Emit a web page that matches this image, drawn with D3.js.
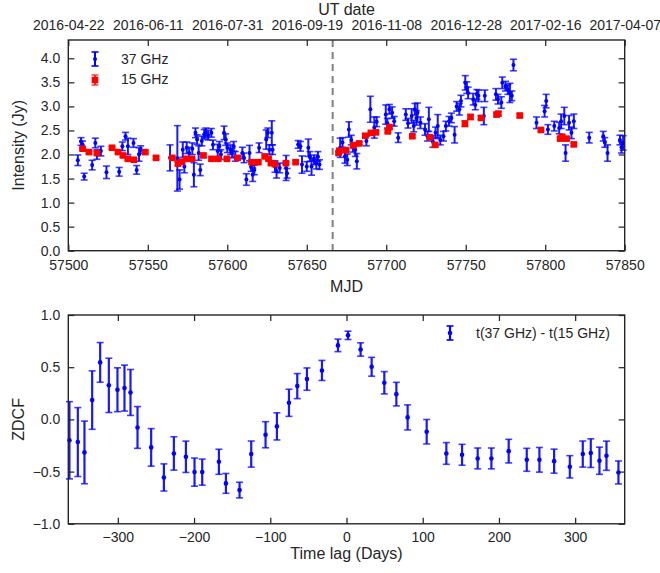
<!DOCTYPE html>
<html><head><meta charset="utf-8">
<script src="https://cdn.jsdelivr.net/npm/d3@7"></script>
<style>
html,body{margin:0;padding:0;background:#fff;}
text{font-family:"Liberation Sans",Arial,sans-serif;fill:#262626;}
</style></head>
<body>
<svg id="chart" width="660" height="573"></svg>
<script>
// ---------- data ----------
const mjd37 = [57506,57508,57509,57510,57515,57517,57518,57520.5,57524,57532,57534,57536,57537.5,57541,57543,57544.5,57545.5,
57564,57568.6,57570,57572,57573,57574.5,57576,57578,57579,57580,57581,57582,57583,57584,57585.5,57586.5,57588,57590,57591,
57594,57595,57596,57598,57599,57600,57602,57603,57604,57605,57609.5,57610.5,57612,57614,57615,57616,57617,57620,57624.5,
57625.5,57626.5,57628,57628.5,57630,57631,57633,57637,57637.6,57644.6,57646,57647,57650,57651,57652,57653,57654.5,57656,57657,57658,
57671,57672.5,57674,57675.5,57676.5,57678,57679,57680.5,57681.5,57687.5,57690,57692.5,57694,57699.7,57700.7,57702,57703.7,57705,
57707.5,57712.3,57713.7,57716,57717.3,57718,57719,57719.6,57721.5,57724.4,57726,57726.8,57729.3,57731,57732.4,57734,57736,57737.5,
57739.5,57741,57743,57744.3,57746,57747,57749.7,57750.7,57751.5,57754.7,57756,57757,57758,57761.4,57762,57769,57770.3,57772.4,
57773,57775,57776.5,57777.8,57779,57780,57794.5,57799.6,57800.6,57801.7,57805.7,57808.8,57810,57812,57812.8,57815,57816.5,57818,
57827.7,57836.5,57837.5,57839.2,57847,57848,57849];
const flux37 = [1.88,2.27,2.20,1.54,1.78,2.24,2.00,2.07,1.63,1.64,2.17,2.38,2.17,2.24,1.68,2.00,2.10,
1.93,1.92,1.48,2.10,1.75,2.14,2.03,2.12,1.58,2.45,2.31,2.03,1.68,2.28,2.42,2.45,2.40,2.45,2.20,
2.07,2.17,2.00,2.45,2.31,2.14,2.10,2.03,2.17,1.96,2.03,1.93,1.48,2.03,1.75,1.58,1.68,2.14,2.31,
2.45,2.10,2.45,2.10,1.75,1.65,1.72,1.72,1.61,2.21,2.17,1.79,1.75,2.14,1.96,1.75,1.89,1.82,1.96,1.79,
2.14,2.25,1.96,1.89,2.52,2.30,2.15,2.10,1.86,2.28,2.94,2.56,2.68,2.83,2.65,2.94,2.87,2.69,
2.35,2.83,2.65,2.80,2.59,2.94,2.76,2.87,2.66,2.52,2.38,2.73,2.27,2.45,2.59,2.30,2.38,2.59,
2.69,2.76,2.41,3.00,2.94,3.11,3.49,3.39,3.28,3.15,3.03,3.25,3.22,2.80,3.22,3.25,3.15,3.08,
3.49,3.42,3.35,3.28,3.22,3.86,2.66,2.90,3.11,2.52,2.59,2.55,2.69,2.80,2.03,2.66,2.45,2.69,
2.35,2.38,2.25,2.03,2.30,2.15,2.24];
const err37 = [0.11,0.08,0.08,0.07,0.10,0.10,0.10,0.10,0.13,0.09,0.09,0.08,0.17,0.09,0.09,0.14,0.08,
0.27,0.68,0.20,0.16,0.13,0.12,0.12,0.12,0.25,0.10,0.10,0.15,0.12,0.10,0.10,0.10,0.10,0.09,0.10,
0.14,0.10,0.10,0.14,0.12,0.10,0.10,0.10,0.10,0.10,0.12,0.10,0.12,0.16,0.10,0.14,0.10,0.10,0.20,
0.10,0.10,0.25,0.10,0.12,0.14,0.10,0.26,0.10,0.08,0.10,0.18,0.10,0.18,0.10,0.18,0.10,0.12,0.10,0.10,
0.20,0.10,0.14,0.12,0.16,0.10,0.10,0.14,0.16,0.10,0.27,0.22,0.10,0.20,0.10,0.10,0.12,0.10,
0.10,0.12,0.10,0.15,0.12,0.12,0.15,0.20,0.12,0.12,0.10,0.25,0.12,0.12,0.24,0.10,0.10,0.10,
0.10,0.10,0.17,0.10,0.12,0.12,0.15,0.12,0.12,0.12,0.10,0.10,0.12,0.18,0.12,0.12,0.10,0.12,
0.12,0.10,0.10,0.20,0.10,0.12,0.12,0.12,0.14,0.10,0.10,0.12,0.15,0.18,0.17,0.15,0.12,0.15,
0.11,0.10,0.10,0.17,0.10,0.12,0.15];

const mjd15 = [57509,57513,57518,57527.5,57531.3,57534.4,57537.5,57541.3,57548.4,57555.2,57565.4,57569,57571.3,57574.2,57577.8,
57585,57590.1,57594.3,57599.8,57606.5,57615.3,57619.5,57623.6,57626,57627.5,57630,57636.9,57643,
57670,57670.5,57674.7,57679.3,57683,57686.8,57690.4,57693.5,57701,57702,57716.4,57727.5,57730.8,57749.5,57753,57759.6,
57769.4,57770.5,57784,57797.3,57809.4,57810.6,57813.4,57818];
const flux15 = [2.12,2.05,2.03,2.14,2.05,1.98,1.91,1.89,2.05,1.93,1.93,1.81,1.85,1.91,1.91,
1.98,1.91,1.91,1.91,1.93,1.84,1.84,1.96,1.91,1.82,1.80,1.82,1.84,
2.03,2.08,2.09,2.19,2.23,2.39,2.45,2.46,2.48,2.57,2.38,2.36,2.20,2.64,2.78,2.76,
2.83,2.85,2.81,2.51,2.33,2.37,2.33,2.21];
const err15 = [0.03,0.03,0.03,0.03,0.03,0.03,0.03,0.03,0.03,0.03,0.03,0.03,0.03,0.03,0.03,
0.03,0.03,0.03,0.03,0.03,0.03,0.03,0.03,0.03,0.03,0.03,0.03,0.03,
0.03,0.03,0.03,0.03,0.03,0.04,0.03,0.03,0.03,0.04,0.03,0.03,0.03,0.06,0.05,0.04,
0.04,0.04,0.04,0.03,0.03,0.04,0.03,0.03];

const gapMJD = 57666.3;

const lag = [-363.5,-352.5,-343.8,-333.7,-323.2,-311.8,-300.5,-291.3,-283.4,-274.2,-256.3,-239.6,-226.5,-210.7,-199.4,-189.3,
-167.4,-158.2,-140.3,-125,-106.2,-91.3,-75.5,-64.6,-51.9,-32.2,-11.2,2,18.5,33,49.6,65.4,80.2,105.2,131,151.6,172.1,190.1,
212.8,236.5,253.1,272.4,293,310,320.5,331.9,341.1,356.8];
const zdcf = [-0.20,-0.217,-0.316,0.185,0.546,0.326,0.284,0.30,0.258,-0.077,-0.268,-0.556,-0.326,-0.358,-0.505,-0.505,
-0.406,-0.613,-0.677,-0.332,-0.147,-0.067,0.159,0.319,0.386,0.469,0.709,0.805,0.67,0.504,0.351,0.242,0.019,-0.118,-0.326,-0.339,-0.374,-0.374,
-0.304,-0.387,-0.387,-0.40,-0.454,-0.332,-0.323,-0.396,-0.348,-0.508];
const zerr = [0.37,0.33,0.30,0.28,0.19,0.26,0.21,0.22,0.22,0.20,0.18,0.13,0.16,0.15,0.135,0.125,
0.12,0.095,0.075,0.125,0.125,0.13,0.13,0.12,0.107,0.096,0.06,0.04,0.064,0.09,0.107,0.113,0.12,0.117,0.104,0.10,0.10,0.10,
0.113,0.11,0.118,0.115,0.107,0.125,0.137,0.13,0.14,0.11];

const mjdTicks = [57500,57550,57600,57650,57700,57750,57800,57850];
const dateLabels = ["2016-04-22","2016-06-11","2016-07-31","2016-09-19","2016-11-08","2016-12-28","2017-02-16","2017-04-07"];
const fluxTicks = [0,0.5,1,1.5,2,2.5,3,3.5,4];
const lagTicks = [-300,-200,-100,0,100,200,300];
const zTicks = [-1,-0.5,0,0.5,1];

// ---------- drawing ----------
const svg = d3.select("#chart");
const FRAME = "#262626", BLUE = "#0000ff", RED = "#ff0000";
const L = 68.3, R = 624.7;
const fmtMinus = s => s.replace("-", "\u2212");

function frame(g, top, bottom){
  g.append("rect").attr("x",L).attr("y",top).attr("width",R-L).attr("height",bottom-top)
    .attr("fill","none").attr("stroke",FRAME).attr("stroke-width",1.4);
}
function styleAxis(sel){
  sel.select(".domain").remove();
  sel.selectAll(".tick line").attr("stroke",FRAME).attr("stroke-width",1.25);
  sel.selectAll(".tick text").attr("font-size","14px").attr("fill","#262626")
     .style("font-family","'Liberation Sans',Arial,sans-serif");
}
function errorbars(g, xs, ys, es, xS, yS, color, cap, sw){
  const data = xs.map((x,i)=>({x, y:ys[i], e:es[i]}));
  const eg = g.append("g");
  data.forEach(d=>{
    const cx = xS(d.x), y1 = yS(d.y+d.e), y2 = yS(d.y-d.e);
    eg.append("line").attr("x1",cx).attr("x2",cx).attr("y1",y1).attr("y2",y2)
      .attr("stroke",color).attr("stroke-width",sw).attr("stroke-opacity",0.9);
    [y1,y2].forEach(yy=> eg.append("line").attr("x1",cx-cap).attr("x2",cx+cap).attr("y1",yy).attr("y2",yy)
      .attr("stroke",color).attr("stroke-width",1.6).attr("stroke-opacity",0.75));
  });
  return data;
}

// ===== Top panel =====
const T1 = 40, B1 = 250.7;
const x1 = d3.scaleLinear().domain([57500,57850]).range([L,R]);
const y1 = d3.scaleLinear().domain([0,4.38]).range([B1,T1]);
const g1 = svg.append("g");

// dashed gap line
g1.append("line").attr("x1",x1(gapMJD)).attr("x2",x1(gapMJD)).attr("y1",T1).attr("y2",B1)
  .attr("stroke","#808080").attr("stroke-width",2).attr("stroke-dasharray","7,5");

// 37 GHz
errorbars(g1, mjd37, flux37, err37, x1, y1, BLUE, 3.5, 2);
g1.append("g").selectAll("circle").data(mjd37).join("circle")
  .attr("cx",d=>x1(d)).attr("cy",(d,i)=>y1(flux37[i])).attr("r",2).attr("fill",BLUE);
// 15 GHz
errorbars(g1, mjd15, flux15, err15, x1, y1, RED, 3.5, 1.5);
g1.append("g").selectAll("rect").data(mjd15).join("rect")
  .attr("x",d=>x1(d)-3.3).attr("y",(d,i)=>y1(flux15[i])-3.3).attr("width",6.6).attr("height",6.6).attr("fill",RED);

frame(g1, T1, B1);
// axes
const ax1b = g1.append("g").attr("transform",`translate(0,${B1})`)
  .call(d3.axisBottom(x1).tickValues(mjdTicks).tickFormat(d3.format("d")).tickSizeInner(-6).tickSizeOuter(0).tickPadding(9));
styleAxis(ax1b);
const ax1t = g1.append("g").attr("transform",`translate(0,${T1})`)
  .call(d3.axisTop(x1).tickValues(mjdTicks).tickFormat((d,i)=>dateLabels[i]).tickSizeInner(-6).tickSizeOuter(0).tickPadding(10));
styleAxis(ax1t);
const ax1l = g1.append("g").attr("transform",`translate(${L},0)`)
  .call(d3.axisLeft(y1).tickValues(fluxTicks).tickFormat(d3.format(".1f")).tickSizeInner(-6).tickSizeOuter(0).tickPadding(8));
styleAxis(ax1l);
const ax1r = g1.append("g").attr("transform",`translate(${R},0)`)
  .call(d3.axisRight(y1).tickValues(fluxTicks).tickFormat("").tickSizeInner(-6).tickSizeOuter(0));
styleAxis(ax1r);

g1.append("text").attr("x",(L+R)/2).attr("y",15).attr("text-anchor","middle").attr("font-size","16px").text("UT date");
g1.append("text").attr("x",(L+R)/2).attr("y",292).attr("text-anchor","middle").attr("font-size","16px").text("MJD");
g1.append("text").attr("transform",`translate(24,${(T1+B1)/2}) rotate(-90)`).attr("text-anchor","middle")
  .attr("font-size","16px").text("Intensity (Jy)");

// legend top
const lg = g1.append("g");
lg.append("line").attr("x1",95).attr("x2",95).attr("y1",52).attr("y2",66).attr("stroke",BLUE).attr("stroke-width",2);
[52,66].forEach(yy=>lg.append("line").attr("x1",91.5).attr("x2",98.5).attr("y1",yy).attr("y2",yy).attr("stroke",BLUE).attr("stroke-width",1.6));
lg.append("circle").attr("cx",95).attr("cy",59).attr("r",2).attr("fill",BLUE);
lg.append("text").attr("x",121).attr("y",64).attr("font-size","14px").text("37 GHz");
lg.append("line").attr("x1",95).attr("x2",95).attr("y1",75).attr("y2",85).attr("stroke",RED).attr("stroke-width",1.5);
[75,85].forEach(yy=>lg.append("line").attr("x1",91.5).attr("x2",98.5).attr("y1",yy).attr("y2",yy).attr("stroke",RED).attr("stroke-width",1.6).attr("stroke-opacity",0.7));
lg.append("rect").attr("x",91.7).attr("y",76.7).attr("width",6.6).attr("height",6.6).attr("fill",RED);
lg.append("text").attr("x",121).attr("y",84).attr("font-size","14px").text("15 GHz");

// ===== Bottom panel =====
const T2 = 315, B2 = 523.8;
const x2 = d3.scaleLinear().domain([-365,365]).range([L,R]);
const y2 = d3.scaleLinear().domain([-1,1]).range([B2,T2]);
const g2 = svg.append("g");

errorbars(g2, lag, zdcf, zerr, x2, y2, BLUE, 3.5, 2.2);
g2.append("g").selectAll("circle").data(lag).join("circle")
  .attr("cx",d=>x2(d)).attr("cy",(d,i)=>y2(zdcf[i])).attr("r",2.3).attr("fill",BLUE);

frame(g2, T2, B2);
const ax2b = g2.append("g").attr("transform",`translate(0,${B2})`)
  .call(d3.axisBottom(x2).tickValues(lagTicks).tickFormat(d=>fmtMinus(d3.format("d")(d))).tickSizeInner(-6).tickSizeOuter(0).tickPadding(8));
styleAxis(ax2b);
const ax2t = g2.append("g").attr("transform",`translate(0,${T2})`)
  .call(d3.axisTop(x2).tickValues(lagTicks).tickFormat("").tickSizeInner(-6).tickSizeOuter(0));
styleAxis(ax2t);
const ax2l = g2.append("g").attr("transform",`translate(${L},0)`)
  .call(d3.axisLeft(y2).tickValues(zTicks).tickFormat(d=>fmtMinus(d3.format(".1f")(d))).tickSizeInner(-6).tickSizeOuter(0).tickPadding(8));
styleAxis(ax2l);
const ax2r = g2.append("g").attr("transform",`translate(${R},0)`)
  .call(d3.axisRight(y2).tickValues(zTicks).tickFormat("").tickSizeInner(-6).tickSizeOuter(0));
styleAxis(ax2r);

g2.append("text").attr("x",(L+R)/2).attr("y",559).attr("text-anchor","middle").attr("font-size","16px").text("Time lag (Days)");
g2.append("text").attr("transform",`translate(24,${(T2+B2)/2}) rotate(-90)`).attr("text-anchor","middle")
  .attr("font-size","16px").text("ZDCF");

// legend bottom
const lg2 = g2.append("g");
lg2.append("line").attr("x1",450).attr("x2",450).attr("y1",326).attr("y2",340).attr("stroke",BLUE).attr("stroke-width",2.2);
[326,340].forEach(yy=>lg2.append("line").attr("x1",446.5).attr("x2",453.5).attr("y1",yy).attr("y2",yy).attr("stroke",BLUE).attr("stroke-width",1.6));
lg2.append("circle").attr("cx",450).attr("cy",333).attr("r",2.3).attr("fill",BLUE);
lg2.append("text").attr("x",476).attr("y",338).attr("font-size","14px").text("t(37 GHz) - t(15 GHz)");
</script>
</body></html>
